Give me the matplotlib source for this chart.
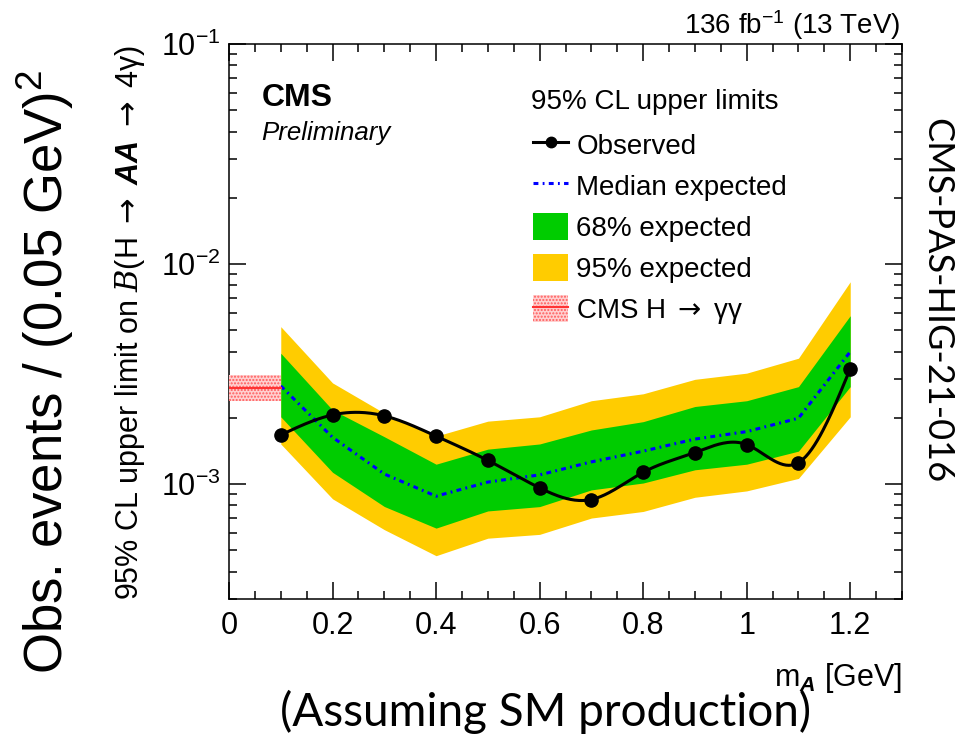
import numpy as np
import matplotlib
matplotlib.use("Agg")
import matplotlib.pyplot as plt
from matplotlib.ticker import MultipleLocator, LogLocator, NullFormatter, FuncFormatter
from matplotlib.patches import Patch
from matplotlib.lines import Line2D

plt.rcParams['font.family'] = ['Liberation Sans', 'DejaVu Sans']
plt.rcParams['mathtext.fontset'] = 'custom'
plt.rcParams['mathtext.rm'] = 'Liberation Sans'
plt.rcParams['mathtext.it'] = 'Liberation Sans:italic'
plt.rcParams['mathtext.bf'] = 'Liberation Sans:bold'
plt.rcParams['mathtext.bfit'] = 'Liberation Sans:italic:bold'
plt.rcParams['mathtext.sf'] = 'DejaVu Sans'
plt.rcParams['mathtext.cal'] = 'DejaVu Serif:italic'
plt.rcParams['hatch.linewidth'] = 1.0

# mass points [GeV]
m_a = [0.1, 0.2, 0.3, 0.4, 0.5, 0.6, 0.7, 0.8, 0.9, 1.0, 1.1, 1.2]

# 95% CL upper limits
observed = [1.67e-3, 2.06e-3, 2.04e-3, 1.65e-3, 1.28e-3, 0.96e-3,
            0.85e-3, 1.13e-3, 1.39e-3, 1.51e-3, 1.25e-3, 3.34e-3]
expected = [2.79e-3, 1.63e-3, 1.11e-3, 0.88e-3, 1.02e-3, 1.10e-3,
            1.26e-3, 1.41e-3, 1.60e-3, 1.73e-3, 1.99e-3, 3.99e-3]
exp_68_up = [3.93e-3, 2.17e-3, 1.64e-3, 1.23e-3, 1.44e-3, 1.52e-3,
             1.76e-3, 1.92e-3, 2.25e-3, 2.39e-3, 2.77e-3, 5.82e-3]
exp_68_dn = [2.02e-3, 1.13e-3, 0.79e-3, 0.63e-3, 0.754e-3, 0.789e-3,
             0.94e-3, 1.01e-3, 1.16e-3, 1.23e-3, 1.41e-3, 2.77e-3]
exp_95_up = [5.19e-3, 2.88e-3, 2.10e-3, 1.65e-3, 1.93e-3, 2.02e-3,
             2.39e-3, 2.57e-3, 2.99e-3, 3.19e-3, 3.73e-3, 8.3e-3]
exp_95_dn = [1.52e-3, 0.856e-3, 0.62e-3, 0.472e-3, 0.567e-3, 0.59e-3,
             0.70e-3, 0.75e-3, 0.87e-3, 0.93e-3, 1.06e-3, 2.02e-3]

# CMS H -> gamma gamma band
hgg_x = [0.0, 0.1]
hgg_central = 2.72e-3
hgg_up = 3.12e-3
hgg_dn = 2.39e-3


def smooth(x, y, n=400):
    # natural cubic spline through the points (like ROOT's "C" draw option)
    x = np.asarray(x, float)
    y = np.asarray(y, float)
    h = np.diff(x)
    k = len(x)
    A = np.zeros((k, k))
    r = np.zeros(k)
    A[0, 0] = A[-1, -1] = 1
    for i in range(1, k - 1):
        A[i, i - 1] = h[i - 1]
        A[i, i] = 2 * (h[i - 1] + h[i])
        A[i, i + 1] = h[i]
        r[i] = 6 * ((y[i + 1] - y[i]) / h[i] - (y[i] - y[i - 1]) / h[i - 1])
    M = np.linalg.solve(A, r)
    xs = np.linspace(x[0], x[-1], n)
    idx = np.clip(np.searchsorted(x, xs) - 1, 0, k - 2)
    x0, x1 = x[idx], x[idx + 1]
    hh = x1 - x0
    t0, t1 = x1 - xs, xs - x0
    ys = ((M[idx] * t0**3 + M[idx + 1] * t1**3) / (6 * hh)
          + (y[idx] / hh - M[idx] * hh / 6) * t0
          + (y[idx + 1] / hh - M[idx + 1] * hh / 6) * t1)
    return xs, ys


W, H = 959, 738
fig = plt.figure(figsize=(W / 100, H / 100), dpi=100)
ax = fig.add_axes([229 / W, 1 - 599 / H, (902 - 229) / W, (599 - 44) / H])

yellow = '#ffcc00'
green = '#00cc00'
hgg_face = '#ffd0d0'
hgg_hatch = '#ff5a5a'
dashdot = (0, (1.6, 1.4, 0.6, 1.4))
arrow = r' $\mathsf{\rightarrow}$ '

ax.fill_between(m_a, exp_95_dn, exp_95_up, color=yellow, lw=0, zorder=1)
ax.fill_between(m_a, exp_68_dn, exp_68_up, color=green, lw=0, zorder=2)
ax.plot(m_a, expected, color='blue', lw=2.2, linestyle=dashdot, zorder=3)

xs, ys = smooth(m_a, np.log10(observed))
ax.plot(xs, 10**ys, color='black', lw=2.2, zorder=4)
ax.plot(m_a, observed, 'o', color='black', ms=9.5, zorder=5)

ax.fill_between(hgg_x, [hgg_dn] * 2, [hgg_up] * 2, facecolor=hgg_face,
                edgecolor=hgg_hatch, hatch='.....', lw=0, zorder=3)
ax.plot(hgg_x, [hgg_central] * 2, color='#ff3333', lw=1.5, zorder=3)

ax.set_yscale('log')
ax.set_xlim(0, 1.3)
ax.set_ylim(3e-4, 0.1)

ax.xaxis.set_major_locator(MultipleLocator(0.2))
ax.xaxis.set_minor_locator(MultipleLocator(0.05))
ax.xaxis.set_major_formatter(FuncFormatter(lambda v, p: f'{v:g}'))
ax.yaxis.set_major_locator(LogLocator(base=10))
ax.yaxis.set_minor_locator(LogLocator(base=10, subs=np.arange(2, 10)))
ax.yaxis.set_minor_formatter(NullFormatter())

ax.tick_params(which='both', direction='in', top=True, right=True,
               width=1.1, labelsize=22)
ax.tick_params(which='major', length=12)
ax.tick_params(which='minor', length=6)
ax.tick_params(axis='x', pad=9)
ax.tick_params(axis='y', pad=6)
for s in ax.spines.values():
    s.set_linewidth(1.1)

# legend
handles = [
    Line2D([], [], color='black', lw=2.2, marker='o', ms=7.5),
    Line2D([], [], color='blue', lw=2.2, linestyle=dashdot),
    Patch(facecolor=green, lw=0),
    Patch(facecolor=yellow, lw=0),
    (Patch(facecolor=hgg_face, edgecolor=hgg_hatch, hatch='.....', lw=0),
     Line2D([], [], color='#ff3333', lw=1.5)),
]
labels = ['Observed', 'Median expected', '68% expected', '95% expected',
          'CMS H' + arrow + 'γγ']
fig.text(531 / W, 1 - 109 / H, '95% CL upper limits', fontsize=20)
ax.legend(handles, labels, loc='upper left',
          bbox_to_anchor=(533 / W, 1 - 131 / H), bbox_transform=fig.transFigure,
          frameon=False, fontsize=20, handlelength=1.26, handleheight=1.08,
          handletextpad=0.3, labelspacing=0.45, borderpad=0, borderaxespad=0)

# texts
fig.text(262 / W, 1 - 106 / H, 'CMS', fontsize=23, fontweight='bold')
fig.text(261 / W, 1 - 140 / H, 'Preliminary', fontsize=18.6, style='italic')
fig.text(900 / W, 1 - 34 / H, r'136 fb$^{\mathregular{-1}}$ (13 TeV)',
         fontsize=20, ha='right')
fig.text(902 / W, 1 - 686 / H, r'm$_{\mathbfit{A}}$ [GeV]', fontsize=22,
         ha='right')
fig.text(130 / W, 1 - 322 / H,
         r'95% CL upper limit on $\mathcal{B}$(H' + arrow + r'$\mathbfit{AA}$'
         + arrow + '4γ)',
         fontsize=22, rotation=90, ha='center', va='center')
fig.text(45 / W, 1 - 372 / H, r'Obs. events / (0.05 GeV)$^{\mathregular{2}}$',
         fontsize=38, rotation=90, ha='center', va='center')
fig.text(937 / W, 1 - 301 / H, 'CMS-PAS-HIG-21-016', fontsize=26,
         family='Lato', rotation=-90, ha='center', va='center')
fig.text(546 / W, 1 - 712 / H, '(Assuming SM production)', fontsize=33,
         family='Lato', ha='center', va='center')

fig.savefig('out.png', dpi=100)
